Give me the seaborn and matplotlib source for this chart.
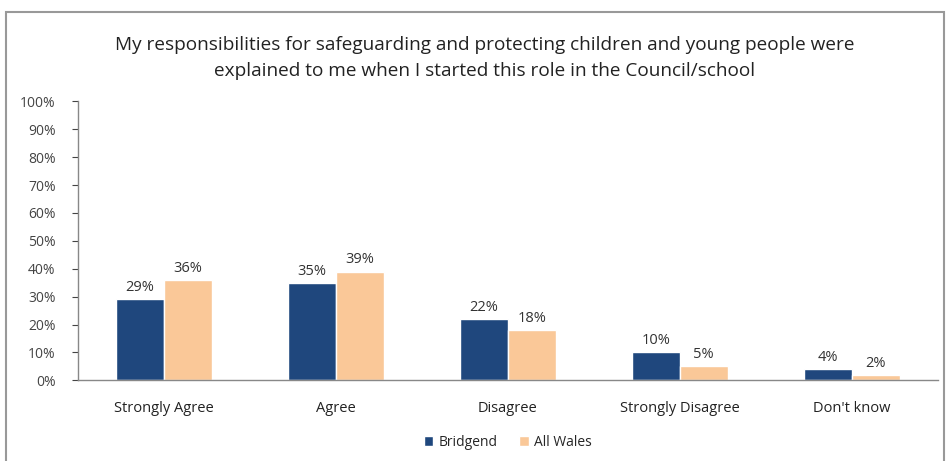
import pandas as pd
import seaborn as sns
import matplotlib.pyplot as plt
from matplotlib.patches import Rectangle
from matplotlib.ticker import PercentFormatter, MultipleLocator

# -------------------Data --------------------
categories = ["Strongly Agree", "Agree", "Disagree", "Strongly Disagree", "Don't know"]
bridgend = [29, 35, 22, 10, 4]
all_wales = [36, 39, 18, 5, 2]
series_names = ["Bridgend", "All Wales"]
title = ("My responsibilities for safeguarding and protecting children and young people were\n"
         "explained to me when I started this role in the Council/school")

df = pd.DataFrame({
    "category": categories * 2,
    "series": [series_names[0]] * len(categories) + [series_names[1]] * len(categories),
    "value": bridgend + all_wales,
})

# -------------------Plot --------------------
sns.set_theme(style="white")
plt.rcParams['font.family'] = ['Open Sans', 'DejaVu Sans']

fig = plt.figure(figsize=(9.5, 4.61), dpi=100)
ax = fig.add_axes([0.082, 0.175, 0.905, 0.605])

palette = {"Bridgend": "#1F477D", "All Wales": "#FAC898"}
sns.barplot(data=df, x="category", y="value", hue="series", palette=palette,
            width=0.56, ax=ax, saturation=1)

for cont in ax.containers:
    ax.bar_label(cont, labels=[f"{v:.0f}%" for v in cont.datavalues],
                 padding=3, fontsize=10.5, color="#333333")

ax.set_ylim(0, 100)
ax.yaxis.set_major_locator(MultipleLocator(10))
ax.yaxis.set_major_formatter(PercentFormatter(decimals=0))
ax.set_xlim(-0.5, len(categories) - 0.5)
ax.set_xlabel("")
ax.set_ylabel("")
ax.tick_params(axis="y", labelsize=10, colors="#444444", length=4, width=0.8,
               direction="out", left=True, pad=12)
ax.tick_params(axis="x", labelsize=10.5, colors="#222222", length=0, pad=15)

for side in ["top", "right"]:
    ax.spines[side].set_visible(False)
for side in ["left", "bottom"]:
    ax.spines[side].set_color("#888888")
    ax.spines[side].set_linewidth(1)

ax.legend(loc="upper center", bbox_to_anchor=(0.5, -0.15), ncol=2, frameon=False,
          fontsize=10, handlelength=0.7, handleheight=0.7, columnspacing=1.5,
          handletextpad=0.4)

fig.text(0.51, 0.874, title, ha="center", va="center", fontsize=13.7, color="#222222",
         linespacing=1.55)

# outer chart frame
fig.patches.append(Rectangle((0.006, -0.01), 0.988, 0.984, transform=fig.transFigure,
                             fill=False, edgecolor="#999999", linewidth=1.5))

fig.savefig("out.png", dpi=100)
